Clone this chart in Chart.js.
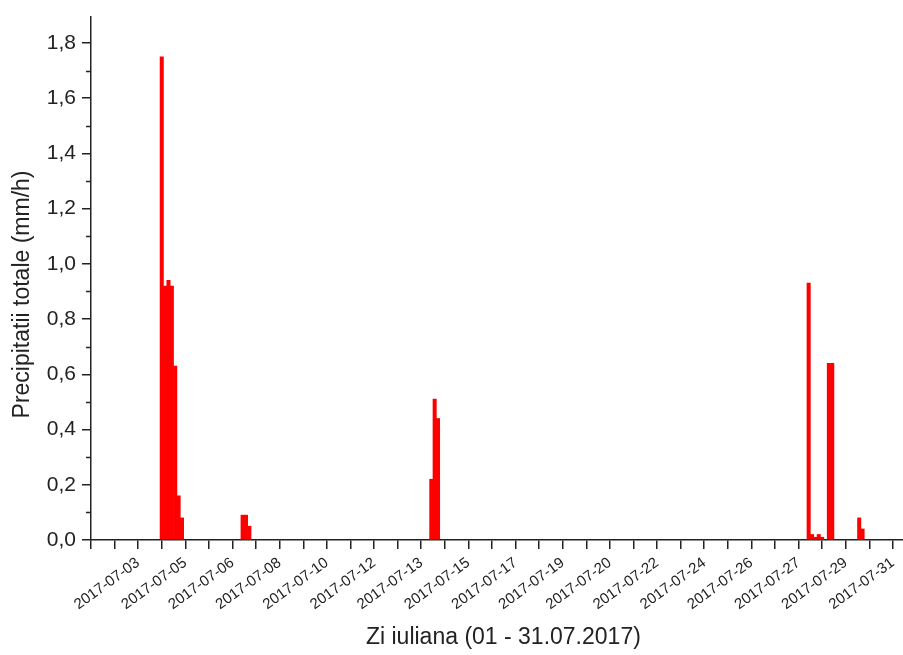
<!DOCTYPE html>
<html>
<head>
<meta charset="utf-8">
<script src="https://cdn.jsdelivr.net/npm/chart.js@4.4.1/dist/chart.umd.min.js"></script>
<style>
  html, body { margin: 0; background: #fff; }
  .chart-wrap { position: relative; width: 903px; height: 655px; }
</style>
</head>
<body>
<div class="chart-wrap"><canvas id="c"></canvas></div>
<script>
// 3-hourly totals, July 2017 ('MM-DD HH')
const times = [
  '07-04 03', '07-04 06', '07-04 09', '07-04 12', '07-04 15', '07-04 18', '07-04 21',
  '07-07 03', '07-07 06', '07-07 09',
  '07-14 03', '07-14 06', '07-14 09',
  '07-28 03', '07-28 06', '07-28 09', '07-28 12', '07-28 15',
  '07-28 21', '07-29 00',
  '07-30 00', '07-30 03'
];
const rain = [
  1.75, 0.92, 0.94, 0.92, 0.63, 0.16, 0.08,
  0.09, 0.09, 0.05,
  0.22, 0.51, 0.44,
  0.93, 0.02, 0.01, 0.02, 0.01,
  0.64, 0.64,
  0.08, 0.04
];

const xTickLabels = [
  '2017-07-03', '2017-07-05', '2017-07-06', '2017-07-08', '2017-07-10', '2017-07-12',
  '2017-07-13', '2017-07-15', '2017-07-17', '2017-07-19', '2017-07-20', '2017-07-22',
  '2017-07-24', '2017-07-26', '2017-07-27', '2017-07-29', '2017-07-31'
];
const yTicks = [0, 0.2, 0.4, 0.6, 0.8, 1.0, 1.2, 1.4, 1.6, 1.8];
const yMinor = [0.1, 0.3, 0.5, 0.7, 0.9, 1.1, 1.3, 1.5, 1.7];

// x axis in hours since 2017-07-01 00:00
const X_MIN = 12, X_MAX = 735, X_STEP = 21;
const toHours = t => {
  const [md, hh] = t.split(' ');
  const day = +md.split('-')[1];
  return (day - 1) * 24 + (+hh);
};

const INK = '#222';
const FONT = "'Liberation Sans', Arial, sans-serif";

const minorTicks = {
  id: 'minorTicks',
  afterDraw(chart) {
    const y = chart.scales.y, ctx = chart.ctx;
    ctx.save();
    ctx.strokeStyle = INK;
    ctx.lineWidth = 1.5;
    yMinor.forEach(v => {
      const py = Math.round(y.getPixelForValue(v)) + 0.5;
      ctx.beginPath();
      ctx.moveTo(y.right - 5, py);
      ctx.lineTo(y.right, py);
      ctx.stroke();
    });
    ctx.restore();
  }
};

new Chart(document.getElementById('c'), {
  type: 'bar',
  data: {
    datasets: [{
      data: times.map((t, i) => ({ x: toHours(t), y: rain[i] })),
      backgroundColor: '#ff0000',
      borderWidth: 0,
      barPercentage: 1,
      categoryPercentage: 1
    }]
  },
  options: {
    responsive: true, maintainAspectRatio: false, animation: false,
    layout: { padding: { top: 17, right: 0, left: 0, bottom: 0 } },
    plugins: { legend: { display: false }, tooltip: { enabled: false } },
    scales: {
      x: {
        type: 'linear', min: X_MIN, max: X_MAX, offset: false,
        grid: { offset: false, drawOnChartArea: false, drawTicks: true, tickLength: 9, tickColor: INK, lineWidth: 1.5 },
        border: { color: INK, width: 1.5 },
        afterBuildTicks: s => {
          const ticks = [];
          for (let v = X_MIN; v <= 726; v += X_STEP) ticks.push({ value: v });
          s.ticks = ticks;
        },
        afterFit: s => { s.height = 115; s.paddingLeft = 0; s.paddingRight = 0; },
        ticks: {
          autoSkip: false, minRotation: 36, maxRotation: 36, padding: 5,
          color: INK, font: { family: FONT, size: 15 },
          callback: (v, i) => (i > 0 && i % 2 === 0) ? xTickLabels[i / 2 - 1] : ''
        },
        title: {
          display: true, text: '  Zi iuliana (01 - 31.07.2017)', color: INK,
          font: { family: FONT, size: 23 }, padding: { top: 0, bottom: 4 }
        }
      },
      y: {
        min: 0, max: 1.894,
        grid: { drawOnChartArea: false, drawTicks: true, tickLength: 9, tickColor: INK, lineWidth: 1.5 },
        border: { color: INK, width: 1.5 },
        afterBuildTicks: s => { s.ticks = yTicks.map(v => ({ value: v })); },
        afterFit: s => { s.width = 91; s.paddingTop = 0; s.paddingBottom = 0; },
        ticks: {
          padding: 6, color: INK, font: { family: FONT, size: 21 },
          callback: v => v.toFixed(1).replace('.', ',')
        },
        title: {
          display: true, text: 'Precipitatii totale (mm/h)     ', color: INK,
          font: { family: FONT, size: 23 }, padding: { top: 9, bottom: 0 }
        }
      }
    }
  },
  plugins: [minorTicks]
});
</script>
</body>
</html>
